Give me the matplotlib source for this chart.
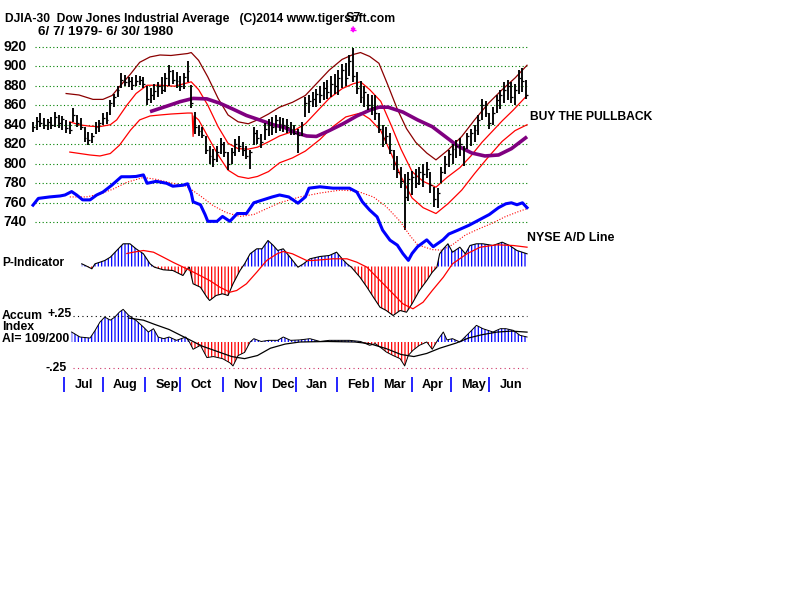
import matplotlib
matplotlib.use('Agg')
import matplotlib.pyplot as plt
import matplotlib.transforms as mtrans
import numpy as np

# ---------------- data (x = trading-day index from 6/7/1979) ----------------
price_ticks = [920, 900, 880, 860, 840, 820, 800, 780, 760, 740]
months = ['Jul', 'Aug', 'Sep', 'Oct', 'Nov', 'Dec', 'Jan', 'Feb', 'Mar', 'Apr', 'May', 'Jun']
month_days = [17, 38, 61, 80, 103, 124, 143, 165, 185, 206, 227, 248]

bar_days = list(range(0, 269, 2))
bar_high = [843, 848, 852, 847, 846, 848, 853, 850, 849, 845, 843, 857, 850, 847, 838, 833, 832, 843, 845, 852,
            853, 865, 872, 880, 893, 891, 889, 889, 891, 890, 889, 880, 878, 882, 884, 889, 893, 901, 896, 894,
            890, 893, 905, 881, 853, 840, 838, 828, 818, 815, 818, 826, 822, 812, 816, 825, 828, 822, 818, 814,
            838, 835, 831, 842, 846, 848, 850, 848, 847, 846, 843, 840, 836, 843, 868, 870, 874, 877, 880, 884,
            886, 890, 892, 896, 902, 903, 912, 919, 894, 885, 880, 872, 870, 870, 852, 840, 838, 832, 814, 808,
            797, 790, 792, 793, 795, 797, 800, 802, 792, 776, 775, 797, 808, 814, 820, 824, 826, 818, 832, 836,
            840, 850, 866, 864, 852, 858, 870, 876, 884, 886, 884, 882, 896, 898, 886]
bar_low = [833, 835, 838, 836, 835, 836, 838, 837, 835, 832, 831, 843, 838, 835, 822, 819, 821, 831, 833, 840,
           841, 850, 858, 868, 878, 880, 879, 876, 880, 881, 878, 860, 862, 865, 868, 872, 874, 880, 882, 878,
           875, 877, 884, 857, 831, 828, 826, 810, 800, 797, 802, 810, 807, 794, 800, 808, 812, 808, 805, 795,
           819, 820, 816, 824, 828, 830, 832, 834, 833, 832, 830, 829, 811, 828, 848, 852, 858, 858, 862, 865,
           866, 868, 872, 870, 878, 880, 890, 884, 872, 862, 858, 855, 850, 845, 832, 817, 820, 810, 794, 785,
           775, 732, 762, 768, 775, 778, 776, 785, 770, 756, 755, 780, 790, 797, 800, 806, 808, 798, 815, 818,
           822, 830, 845, 848, 836, 840, 852, 856, 862, 865, 862, 860, 872, 874, 866]
bar_close = [838, 844, 842, 840, 843, 840, 848, 842, 846, 837, 835, 850, 842, 838, 826, 824, 828, 838, 842, 847,
             845, 862, 868, 876, 886, 884, 885, 881, 885, 886, 882, 866, 870, 875, 880, 876, 888, 895, 886, 885,
             880, 889, 895, 862, 838, 834, 830, 814, 808, 805, 812, 820, 812, 800, 812, 820, 818, 814, 808, 812,
             832, 826, 822, 836, 840, 838, 845, 841, 840, 838, 836, 832, 830, 840, 862, 864, 866, 872, 870, 878,
             874, 882, 880, 888, 896, 888, 905, 890, 878, 868, 874, 860, 858, 852, 836, 826, 828, 814, 800, 792,
             782, 766, 784, 786, 780, 792, 790, 795, 778, 764, 770, 792, 800, 810, 815, 818, 820, 815, 828, 832,
             835, 845, 860, 852, 842, 852, 865, 870, 876, 880, 868, 876, 888, 885, 870]

# 21-day band: middle (red), upper (dark red), lower (red)
mid_x = [20, 25, 31, 36, 42, 45.5, 51, 56, 62, 69, 77, 84, 86, 90, 95, 100.6, 106, 111.5, 117, 122, 128, 134,
         141, 148, 154, 161, 168, 174, 178, 183, 189, 195, 200, 206, 212, 219, 225, 232, 238, 244, 250, 255,
         261, 266, 268.5]
mid_y = [843, 840, 838.5, 838, 840, 845, 860, 872, 880.5, 880.5, 879.5, 883, 884, 876, 860, 838, 821, 815.5,
         815, 817, 822.5, 828.5, 833, 841, 853, 867, 877, 882, 884, 876, 864, 838, 815, 792, 782, 776, 786, 796,
         808, 822, 834, 844, 855, 865, 870]
up_x = [18, 25, 32.6, 38, 43, 47, 53, 58, 63.6, 69, 75, 84, 86, 90, 95, 100.6, 106, 111.5, 117, 122, 128, 134,
        141, 148, 154, 161, 168, 174, 178, 183, 188, 193, 198, 203, 208, 214, 219, 225.5, 233, 240, 247.5, 255,
        262, 268.5]
up_y = [872, 870.5, 866, 866, 870, 879, 892, 904, 909.5, 911.5, 911, 913, 914, 906, 889, 867, 850, 843, 841, 845,
        851, 858, 863, 870, 882, 896, 907, 912, 914, 910, 903, 880, 856, 836, 822, 811, 804, 814, 828, 845, 862,
        876, 888, 901]
low_x = [20, 25.5, 31, 36.4, 42, 47, 53, 58, 63.6, 69, 75, 84, 86.5, 87, 87.5, 90, 95, 100.6, 106, 111.5, 117,
         122, 128, 134, 141, 148, 156, 163, 170, 178, 183, 189, 195, 200, 206, 212, 219, 225.5, 233, 240, 247.5,
         255, 262, 268.5]
low_y = [812, 810.5, 809, 808, 810.5, 819, 834.5, 845, 849, 850, 851, 852, 852, 828, 849, 845, 828, 809, 793.5,
         787, 785, 787, 792, 801, 806, 813, 825, 838, 848, 852, 846, 834, 809, 787, 765, 755, 749, 759, 773, 790,
         807, 823, 834, 840]
# long moving average (purple)
ma_x = [63.6, 72.6, 80, 87, 94.5, 101.6, 108.7, 116, 123, 130.6, 137, 141, 148.7, 154, 161, 168.5, 176, 183,
        188, 193, 201, 209, 217, 224, 231, 238.5, 245.6, 253, 260, 268.5]
ma_y = [853.4, 859, 863.7, 867, 866.5, 862, 856, 849.5, 845, 840, 837, 833, 828.5, 828, 834, 841, 849, 855,
        858, 858, 853, 845, 838, 828, 818, 811, 808, 809, 815.5, 827.7]

# NYSE A/D line (plotted against the price grid) and its moving average
ad_x = [0, 2.9, 9, 14.7, 17.4, 21, 23.7, 27, 31, 34.6, 38, 42.8, 48, 52.7, 56, 60, 62, 67, 72.6, 76, 81.5, 84,
        86, 87, 91, 93.5, 95, 100, 103, 107, 111, 116, 120, 125, 130, 134, 139, 144, 148, 150, 156, 163, 172,
        176, 179, 183, 187, 190, 194, 198, 201, 204, 206, 209, 214, 217.5, 222.8, 226, 231, 237, 242, 248,
        253, 257, 260, 263, 266, 268.5]
ad_y = [757.6, 764.5, 766, 767, 768, 771.5, 768, 763, 763, 768, 771, 778, 786.7, 786.7, 787, 788.6, 780, 782,
        780, 777, 778, 779.5, 770, 761, 758, 748, 741, 741, 746, 741, 749, 749, 760, 763, 766, 768, 766, 759.6,
        766, 775, 776.4, 775, 775, 771, 761, 752.5, 745.6, 732, 721.7, 716.6, 708, 701, 708, 715, 722, 715,
        722, 728, 732, 737, 742, 748, 755, 759, 760, 758, 760, 755]
adma_x = [20, 29, 36.4, 43.5, 51, 60, 67, 76, 83.5, 91, 98, 105, 112.5, 120, 127, 134, 145, 156, 167, 176, 185,
          192, 199.5, 205, 209, 217, 222, 228, 235, 242, 249.5, 256.5, 263.6, 268.5]
adma_y = [766, 766, 769, 774, 781, 786, 784, 780, 777, 767, 757, 750, 746, 748, 754, 760, 766, 770, 773, 772,
          766, 756, 741, 726, 717, 712, 711.5, 717, 727, 733, 739, 745.6, 750.8, 754]

# P-Indicator and its moving average
p_x = [26.5, 29, 32, 33.7, 36.4, 39, 42, 45.5, 49, 52.7, 56, 60, 63.6, 66, 70.8, 76, 81.5, 83.5, 85, 87, 91,
       94.5, 96, 99.5, 103, 106, 108.7, 112.5, 115, 118, 121.6, 124.5, 127.7, 130.6, 133, 136, 139.7, 144,
       147, 150.5, 156, 161, 165, 168, 170.6, 173, 177.7, 181.5, 185, 188.6, 192, 195.7, 199.5, 203, 206, 210,
       214, 217, 219.5, 221, 223, 225.5, 228, 232, 235, 237.5, 241, 244.5, 250, 255, 259, 263, 268.5]
p_y = [2.7, 0.5, -2.3, 2.7, 4.3, 6, 9.3, 16, 22.7, 22.7, 17.7, 12.7, 2.7, -0.7, -3.3, -4, -9, -3.3, -0.7,
       -17.3, -20.7, -30.7, -34, -29, -27.3, -29, -17.3, -4, 2.7, 12.7, 17.7, 17.7, 26, 21, 16, 17.7, 9.3,
       -0.7, 2.7, 7.7, 10, 11, 14.3, 7.7, 2.7, -0.7, -10.7, -20.7, -30.7, -40.7, -44, -49, -44, -45.7, -37.3,
       -24, -14, -5.7, -0.7, 12.7, 17.7, 22.7, 14.3, 19.3, 12.7, 21, 22.7, 22.7, 21, 24.3, 21, 16, 12.7]
pma_x = [51, 54.5, 60, 65.5, 70.8, 76, 83.5, 89, 96, 101.6, 107, 110.7, 116, 121.6, 127, 132.6, 136, 141,
         148.7, 152, 163, 170.6, 176, 181.5, 188.6, 195.7, 201, 206.5, 212, 217, 223, 228, 235.8, 243, 252,
         261, 268.5]
pma_y = [13, 14.3, 16, 14.3, 9.3, 4.3, -2.3, -7.3, -14, -20.7, -25.7, -24, -17.3, -5.7, 6, 12.7, 15, 12.7,
         6, 6, 7.7, 7.7, 4.3, -0.7, -14, -27.3, -37.3, -42.3, -35.7, -24, -10.7, 2.7, 12.7, 19.3, 21.7, 21,
         19.3]

# Accumulation Index and its moving average
ai_x = [21, 25.5, 31, 33.7, 36.4, 39, 42, 44.5, 47, 49, 52, 56, 60, 62.7, 65.5, 68, 71, 74, 78, 81.5, 83, 85,
        87, 91, 94.5, 98, 103, 107, 108.7, 111.5, 115, 118, 120, 124, 128, 133, 136, 140, 145, 150.5, 156,
        161, 167, 172, 178, 183, 186, 188.6, 192, 195.7, 199.5, 202, 204, 206.5, 210, 214, 217, 220, 223,
        225, 228, 232, 237.5, 241, 244.5, 250, 254, 257, 261, 264.7, 268.5]
ai_y = [0.096, 0.048, 0.038, 0.11, 0.192, 0.24, 0.21, 0.24, 0.288, 0.314, 0.256, 0.208, 0.144, 0.096, 0.128,
        0.048, 0.032, 0.048, 0.016, 0.038, 0.048, 0.0, -0.07, -0.032, -0.15, -0.14, -0.16, -0.2, -0.23, -0.13,
        -0.1, 0.0, 0.032, 0.005, 0.016, 0.016, 0.048, 0.016, 0.02, 0.032, 0.005, 0.016, 0.016, 0.016, 0.005,
        -0.032, -0.016, -0.048, -0.096, -0.13, -0.16, -0.23, -0.128, -0.08, -0.032, 0.0, -0.07, 0.02, 0.096,
        0.02, 0.032, 0.0, 0.096, 0.16, 0.128, 0.096, 0.128, 0.128, 0.112, 0.064, 0.048]
aima_x = [52, 60, 66, 74, 83, 92, 100, 108, 115, 122, 129, 137, 145, 160, 175, 183, 192, 200, 207, 214, 221,
          230, 237, 244, 252, 260, 268.5]
aima_y = [0.23, 0.21, 0.17, 0.12, 0.04, -0.04, -0.09, -0.14, -0.16, -0.13, -0.06, -0.02, 0.0, 0.005, 0.0,
          -0.016, -0.064, -0.12, -0.14, -0.11, -0.06, -0.01, 0.04, 0.07, 0.095, 0.105, 0.095]
ai_levels = [0.25, -0.25]

signal_day = 174
signal_label = 'S7'

# ---------------- layout ----------------
W, H = 800, 600
X0, XS = 33.0, 1.84          # pixel of day 0, pixels per trading day
FONT = 'Liberation Sans'
FS = 8.8

fig = plt.figure(figsize=(W / 100, H / 100), dpi=100)
fig.patch.set_facecolor('white')
plt.rcParams['hatch.linewidth'] = 0.9


def panel(zero_px, val_at_zero, px_per_unit):
    ax = fig.add_axes([0, 0, 1, 1])
    ax.set_xlim(-X0 / XS, (W - X0) / XS)
    ax.set_ylim(val_at_zero - (H - zero_px) / px_per_unit, val_at_zero + zero_px / px_per_unit)
    ax.axis('off')
    ax.patch.set_alpha(0)
    return ax


def ftext(x, y, s, **kw):
    kw.setdefault('fontsize', FS)
    kw.setdefault('fontweight', 'bold')
    kw.setdefault('family', FONT)
    kw.setdefault('va', 'center')
    fig.text(x / W, 1 - y / H, s, **kw)


ax_p = panel(46.7, 920, 0.9756)     # price
ax_i = panel(266.5, 0, 1.0)         # P-Indicator
ax_a = panel(342, 0, 104)           # Accum index
ax_t = fig.add_axes([0, 0, 1, 1])   # time axis (y in pixels)
ax_t.set_xlim(-X0 / XS, (W - X0) / XS)
ax_t.set_ylim(H, 0)
ax_t.axis('off')
ax_t.patch.set_alpha(0)

# price grid + labels
ax_p.hlines(price_ticks, 1, 268.5, colors='#008000', linestyles=(0, (1, 2.2)), lw=0.8)
lab_tr = mtrans.blended_transform_factory(fig.transFigure, ax_p.transData)
for v in price_ticks:
    ax_p.text(27 / W, v, str(v), transform=lab_tr, ha='right', va='center',
              fontsize=10, fontweight='bold', family=FONT)

# bands and MA
ax_p.plot(up_x, up_y, color='#8b0000', lw=0.9)
ax_p.plot(mid_x, mid_y, color='#ff0000', lw=0.9)
ax_p.plot(low_x, low_y, color='#ff0000', lw=0.9)
ax_p.plot(ma_x, ma_y, color='#800080', lw=2.6, solid_capstyle='butt')

# price bars
ax_p.vlines(bar_days, bar_low, bar_high, colors='black', lw=1.35)
ax_p.hlines(bar_close, np.array(bar_days), np.array(bar_days) + 1.0, colors='black', lw=0.9)

# A/D line
ax_p.plot(adma_x, adma_y, color='#ff0000', lw=0.8, linestyle=(0, (1, 1.5)))
ax_p.plot(ad_x, ad_y, color='#0000ff', lw=2.2)

# P-Indicator histogram
px_ = np.array(p_x); py_ = np.array(p_y)
ax_i.fill_between(px_, py_, 0, where=py_ >= 0, interpolate=True, facecolor='none',
                  edgecolor='#0000ff', hatch='|||||', linewidth=0)
ax_i.fill_between(px_, py_, 0, where=py_ <= 0, interpolate=True, facecolor='none',
                  edgecolor='#ff0000', hatch='|||||', linewidth=0)
ax_i.plot(px_, py_, color='black', lw=0.8)
ax_i.plot(pma_x, pma_y, color='#ff0000', lw=0.9)

# Accum index histogram
axx = np.array(ai_x); ayy = np.array(ai_y)
ax_a.fill_between(axx, ayy, 0, where=ayy >= 0, interpolate=True, facecolor='none',
                  edgecolor='#0000ff', hatch='|||||', linewidth=0)
ax_a.fill_between(axx, ayy, 0, where=ayy <= 0, interpolate=True, facecolor='none',
                  edgecolor='#ff0000', hatch='|||||', linewidth=0)
ax_a.plot(axx, ayy, color='black', lw=0.7)
ax_a.plot(aima_x, aima_y, color='black', lw=0.9)
ax_a.hlines(ai_levels[0], 22, 268.5, colors='black', linestyles=(0, (1, 3)), lw=0.8)
ax_a.hlines(ai_levels[1], 22, 268.5, colors='#cc3366', linestyles=(0, (1, 3)), lw=0.8)

# month ticks and labels
ax_t.vlines(month_days, 377, 392, colors='#0000ff', lw=1.2)
for d, m in zip(month_days, months):
    ax_t.text(d + 5.5, 385, m, ha='left', va='center', fontsize=FS + 0.4, fontweight='bold', family=FONT)

# sell signal marker
ax_t.annotate('', xy=(signal_day, 36), xytext=(signal_day, 24),
              arrowprops=dict(arrowstyle='-|>', color='#ff00ff', lw=1, mutation_scale=6))
ax_t.hlines(30, signal_day - 1.6, signal_day + 1.6, colors='#ff00ff', lw=1)

# texts
ftext(5, 19, 'DJIA-30  Dow Jones Industrial Average   (C)2014 www.tigersoft.com', fontsize=8.7)
ax_t.text(signal_day, 18, signal_label, ha='center', va='center', fontsize=9, fontweight='bold', family=FONT)
ftext(38, 32, '6/ 7/ 1979- 6/ 30/ 1980', fontsize=9.6)
ftext(530, 117, 'BUY THE PULLBACK', fontsize=8.7)
ftext(527, 238, 'NYSE A/D Line', fontsize=8.9)
ftext(2, 263, 'P-Indicator', fontsize=8.6)
ftext(2, 316, 'Accum', fontsize=FS)
ftext(47, 314, '+.25', fontsize=FS)
ftext(2, 327.5, 'Index', fontsize=FS)
ftext(2, 339, 'AI= 109/200', fontsize=FS)
ftext(45, 368, '-.25', fontsize=FS)

fig.savefig('out.png', dpi=100, facecolor='white')
